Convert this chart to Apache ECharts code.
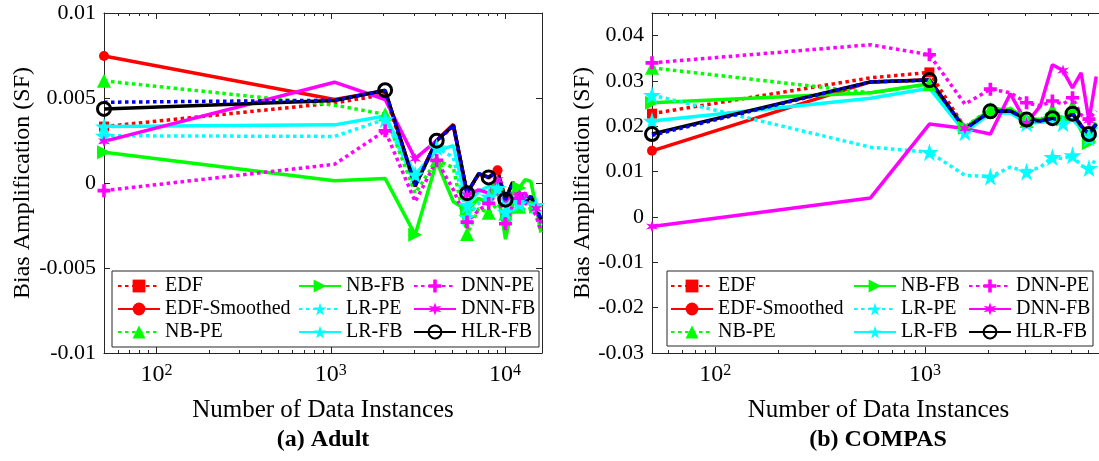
<!DOCTYPE html>
<html>
<head>
<meta charset="utf-8">
<title>Bias Amplification</title>
<script src="https://cdn.jsdelivr.net/npm/echarts@6.0.0/dist/echarts.min.js"></script>
<style>body{margin:0;background:#fff} #chart{width:1099px;height:461px}</style>
</head>
<body>
<div id="chart"></div>
<script>
// legend names, in plotting order
const names = ['EDF', 'EDF-Smoothed', 'NB-PE', 'NB-FB', 'LR-PE', 'LR-FB', 'DNN-PE', 'DNN-FB', 'HLR-FB']

// (a) Adult
const adultN = [50, 1050, 2050, 3050, 4050, 5050, 6050, 7050, 8050, 9050, 10050, 11050, 12050, 13050, 14050, 15050, 16050]
const adultEDF    = [0.00332, 0.00471, 0.0052, -0.0002, 0.00245, 0.00335, -0.00062, 0.0005, 0.0003, 0.0007, -0.001, 0, -0.0006, -0.0011, -0.00082, -0.0014, -0.0022]
const adultEDFS   = [0.00747, 0.00491, 0.00543, -0.0001, 0.00252, 0.00345, -0.00058, 0.00052, 0.00035, 0.00075, -0.00095, 0.00005, -0.00058, -0.00105, -0.0008, -0.00138, -0.0021]
const adultNBPE   = [0.00601, 0.00458, 0.00404, -0.0006, 0.00135, 0.0009, -0.003, -0.0015, -0.00175, -0.0012, -0.0018, -0.0012, -0.0014, -0.0016, -0.0015, -0.0019, -0.0029]
const adultNBFB   = [0.00181, 0.00013, 0.00027, -0.00305, 0.00125, -0.0011, -0.0016, -0.0009, -0.0012, -0.0004, -0.0033, -0.0013, -0.0003, 0.0002, 0.0001, -0.0014, -0.0029]
const adultLRPE   = [0.00278, 0.00274, 0.00375, 0.0001, 0.0021, 0.0015, -0.002, -0.0012, -0.0008, -0.0005, -0.0017, -0.0009, -0.0012, -0.0011, -0.0013, -0.0016, -0.0025]
const adultLRFB   = [0.00332, 0.00342, 0.00394, 0.0005, 0.0019, 0.0022, -0.0013, -0.0005, -0.0002, -0.0003, -0.0013, -0.0005, -0.001, -0.0007, -0.001, -0.0013, -0.0022]
const adultDNNPE  = [-0.00045, 0.0011, 0.00307, -0.0011, 0.00133, -0.0004, -0.0023, -0.0016, -0.0012, -0.0006, -0.0024, -0.0013, -0.0009, -0.0012, -0.0014, -0.0019, -0.0028]
const adultDNNFB  = [0.00245, 0.00593, 0.00491, 0.00143, 0.0025, 0.0034, -0.0007, -0.0004, -0.0006, 0.00017, -0.0011, -0.0006, -0.0007, -0.0006, -0.0012, -0.0015, -0.0024]
const adultHLRFB  = [0.00436, 0.00485, 0.00546, -0.00017, 0.00249, 0.0034, -0.0006, 0.00055, 0.00033, 0.00068, -0.00098, 0.00003, -0.0006, -0.0011, -0.0008, -0.0014, -0.00215]
const adultBlue   = [0.00475, 0.00487, 0.00543, -0.00015, 0.0025, 0.0034, -0.0006, 0.00055, 0.00033, 0.00068, -0.00098, 0.00003, -0.0006, -0.0011, -0.0008, -0.0014, -0.00215]

// (b) COMPAS
const compasN = [50, 550, 1050, 1550, 2050, 2550, 3050, 3550, 4050, 4550, 5050, 5550, 6050, 6550]
const compasEDF   = [0.0228, 0.0307, 0.0319, 0.0197, 0.0235, 0.0236, 0.0217, 0.0214, 0.022, 0.0214, 0.023, 0.0203, 0.0186, 0.0207]
const compasEDFS  = [0.0146, 0.0298, 0.0303, 0.0194, 0.0233, 0.0234, 0.0215, 0.0212, 0.0218, 0.0212, 0.0228, 0.0201, 0.0183, 0.0205]
const compasNBPE  = [0.0329, 0.0274, 0.0293, 0.0199, 0.0238, 0.024, 0.0212, 0.0214, 0.0237, 0.0218, 0.0245, 0.0195, 0.018, 0.021]
const compasNBFB  = [0.0252, 0.0274, 0.0294, 0.0197, 0.0236, 0.0238, 0.0218, 0.0215, 0.0225, 0.0215, 0.0235, 0.019, 0.0163, 0.0205]
const compasLRPE  = [0.0269, 0.0154, 0.0143, 0.0092, 0.0089, 0.011, 0.01, 0.011, 0.0132, 0.0129, 0.0136, 0.0113, 0.0108, 0.0128]
const compasLRFB  = [0.0212, 0.0262, 0.0284, 0.0187, 0.0229, 0.023, 0.0207, 0.0209, 0.0212, 0.0207, 0.0215, 0.0195, 0.0175, 0.02]
const compasDNNPE = [0.034, 0.038, 0.0358, 0.0249, 0.0282, 0.0274, 0.0252, 0.0245, 0.0256, 0.0249, 0.0263, 0.0225, 0.0216, 0.0234]
const compasDNNFB = [-0.0021, 0.0042, 0.0205, 0.0195, 0.0183, 0.0272, 0.0207, 0.0245, 0.0336, 0.0323, 0.0285, 0.0318, 0.0213, 0.031]
const compasHLRFB = [0.0183, 0.0298, 0.0302, 0.0194, 0.0233, 0.0234, 0.0215, 0.0212, 0.0218, 0.0212, 0.0228, 0.0201, 0.0183, 0.0205]
const compasBlue  = [0.018, 0.0298, 0.0302, 0.0194, 0.0233, 0.0234, 0.0215, 0.0212, 0.0218, 0.0212, 0.0228, 0.0201, 0.0183, 0.0205]

// ticks
const adultMajor = [100, 1000, 10000]
const adultMinor = [60, 70, 80, 90, 200, 300, 400, 500, 600, 700, 800, 900, 2000, 3000, 4000, 5000, 6000, 7000, 8000, 9000]
const compasMajor = [100, 1000]
const compasMinor = [60, 70, 80, 90, 200, 300, 400, 500, 600, 700, 800, 900, 2000, 3000, 4000, 5000, 6000, 7000]

const FONT = 'Liberation Serif'
const INK = '#262626'
const star = 'path://M50,0 L61,35 L98,35 L68,57 L79,91 L50,70 L21,91 L32,57 L2,35 L39,35 Z'
const plus = 'path://M36,0 H64 V36 H100 V64 H64 V100 H36 V64 H0 V36 H36 Z'
const aster = 'path://M50,0 L60,33 L93,25 L70,50 L93,75 L60,67 L50,100 L40,67 L7,75 L30,50 L7,25 L40,33 Z'

const even = k => k % 2 === 0 && k <= 12
const third = k => k % 3 === 0
// marker placement per series: [adult, compas]
const look = {
  'EDF':          { color: '#ff0000', dot: true,  symbol: 'rect', size: 10, marks: [k => k === 0, k => k === 0 || k === 2] },
  'EDF-Smoothed': { color: '#ff0000', dot: false, symbol: 'circle', size: 10, marks: [k => k === 0 || k === 9, k => k === 0] },
  'NB-PE':        { color: '#00ff00', dot: true,  symbol: 'triangle', size: 14, marks: [even, even] },
  'NB-FB':        { color: '#00ff00', dot: false, symbol: 'triangle', size: 14, rotate: -90, marks: [third, third] },
  'LR-PE':        { color: '#00ffff', dot: true,  symbol: star, size: 18, marks: [even, even] },
  'LR-FB':        { color: '#00ffff', dot: false, symbol: star, size: 18, marks: [third, third] },
  'DNN-PE':       { color: '#ff00ff', dot: true,  symbol: plus, size: 13, marks: [even, even] },
  'DNN-FB':       { color: '#ff00ff', dot: false, symbol: aster, size: 12, marks: [third, third] },
  'HLR-FB':       { color: '#000000', dot: false, symbol: 'circle', size: 13, ring: true, marks: [k => k % 2 === 0 && k <= 10, even] },
  'HLR':          { color: '#0000ff', dot: true,  symbol: 'none', size: 0, marks: [k => false, k => false] }
}

function makeSeries(name, xs, ys, g) {
  const s = look[name]
  return {
    name: name,
    type: 'line',
    xAxisIndex: g * 4,
    yAxisIndex: g * 2,
    symbol: s.symbol,
    symbolSize: s.size,
    symbolRotate: s.rotate || 0,
    showSymbol: s.symbol !== 'none',
    showAllSymbol: true,
    animation: false,
    color: s.color,
    lineStyle: { color: s.color, width: 3.5, type: s.dot ? [3.5, 3.5] : 'solid', cap: 'butt' },
    itemStyle: s.ring
      ? { color: 'rgba(0,0,0,0)', borderColor: s.color, borderWidth: 3 }
      : { color: s.color, borderWidth: 0 },
    data: xs.map((x, k) => {
      const item = { value: [x, ys[k]] }
      if (!s.marks[g](k)) item.symbol = 'none'
      return item
    })
  }
}

const adultSets = [adultEDF, adultEDFS, adultNBPE, adultNBFB, adultLRPE, adultLRFB, adultDNNPE, adultDNNFB, adultHLRFB, adultBlue]
const compasSets = [compasEDF, compasEDFS, compasNBPE, compasNBFB, compasLRPE, compasLRFB, compasDNNPE, compasDNNFB, compasHLRFB, compasBlue]
const allNames = names.concat(['HLR'])

const series = []
allNames.forEach((n, i) => series.push(makeSeries(n, adultN, adultSets[i], 0)))
allNames.forEach((n, i) => series.push(makeSeries(n, compasN, compasSets[i], 1)))

const tickLine = { color: INK, width: 1 }
const labelText = { fontFamily: FONT, fontSize: 22, color: '#000' }

function xAxes(g, min, max, major, minor) {
  const base = { type: 'log', logBase: 10, gridIndex: g, min: min, max: max, splitLine: { show: false } }
  return [
    Object.assign({}, base, {
      position: 'bottom',
      axisLine: { show: true, onZero: false, lineStyle: tickLine },
      axisTick: { inside: true, length: 6, customValues: major, lineStyle: tickLine },
      axisLabel: {
        customValues: major, margin: 10, fontFamily: FONT, fontSize: 24, color: '#000',
        formatter: v => '{b|10}{sup|' + Math.round(Math.log10(v)) + '}',
        rich: {
          b: { fontFamily: FONT, fontSize: 24, color: '#000', verticalAlign: 'bottom', lineHeight: 24 },
          sup: { fontFamily: FONT, fontSize: 16, color: '#000', verticalAlign: 'top', lineHeight: 16, padding: [0, 0, 14, 0] }
        }
      },
      name: 'Number of Data Instances', nameLocation: 'middle', nameGap: 45,
      nameTextStyle: { fontFamily: FONT, fontSize: 25, color: '#000' }
    }),
    Object.assign({}, base, {
      position: 'bottom',
      axisLine: { show: false, onZero: false },
      axisTick: { inside: true, length: 3, customValues: minor, lineStyle: tickLine },
      axisLabel: { show: false }
    }),
    Object.assign({}, base, {
      position: 'top',
      axisLine: { show: true, onZero: false, lineStyle: tickLine },
      axisTick: { inside: true, length: 6, customValues: major, lineStyle: tickLine },
      axisLabel: { show: false }
    }),
    Object.assign({}, base, {
      position: 'top',
      axisLine: { show: false, onZero: false },
      axisTick: { inside: true, length: 3, customValues: minor, lineStyle: tickLine },
      axisLabel: { show: false }
    })
  ]
}

function yAxes(g, min, max, step, gap) {
  const base = { type: 'value', gridIndex: g, min: min, max: max, interval: step, splitLine: { show: false } }
  return [
    Object.assign({}, base, {
      position: 'left',
      axisLine: { show: true, onZero: false, lineStyle: tickLine },
      axisTick: { inside: true, length: 6, lineStyle: tickLine },
      axisLabel: Object.assign({ margin: 8, formatter: v => (Math.abs(v - max) < 1e-9 && max === 0.045) ? '' : String(+v.toFixed(4)) }, labelText),
      name: 'Bias Amplification (SF)', nameLocation: 'middle', nameRotate: 90, nameGap: gap,
      nameTextStyle: { fontFamily: FONT, fontSize: 24, color: '#000' }
    }),
    Object.assign({}, base, {
      position: 'right',
      axisLine: { show: true, onZero: false, lineStyle: tickLine },
      axisTick: { inside: true, length: 6, lineStyle: tickLine },
      axisLabel: { show: false }
    })
  ]
}

function legendCols(lefts) {
  return lefts.map((left, c) => ({
    orient: 'vertical', left: left, top: 276, padding: 0,
    data: names.slice(c * 3, c * 3 + 3),
    itemWidth: 42, itemHeight: 16, itemGap: 3, selectedMode: false, z: 5,
    textStyle: { fontFamily: FONT, fontSize: 20, color: '#000', lineHeight: 20 }
  }))
}

const chart = echarts.init(document.getElementById('chart'))
chart.setOption({
  animation: false,
  backgroundColor: '#fff',
  grid: [
    { left: 104, top: 13, width: 438, height: 340, containLabel: false, outerBoundsMode: 'none' },
    { left: 652, top: 13, width: 453, height: 340, containLabel: false, outerBoundsMode: 'none' }
  ],
  xAxis: xAxes(0, 50, 16281, adultMajor, adultMinor).concat(xAxes(1, 50, 7214, compasMajor, compasMinor)),
  yAxis: yAxes(0, -0.01, 0.01, 0.005, 69).concat(yAxes(1, -0.03, 0.045, 0.01, 57)),
  legend: legendCols([117, 298, 413]).concat(legendCols([670, 853, 968])),
  graphic: [
    { type: 'rect', z: 4, shape: { x: 112, y: 271, width: 427, height: 76 }, style: { fill: '#fff', stroke: INK, lineWidth: 1 } },
    { type: 'rect', z: 4, shape: { x: 667, y: 271, width: 426, height: 75 }, style: { fill: '#fff', stroke: INK, lineWidth: 1 } },
    { type: 'text', z: 5, x: 323, y: 440, style: { text: '(a) Adult', font: 'bold 24px "Liberation Serif"', fill: '#000', align: 'center', verticalAlign: 'middle', textAlign: 'center', textVerticalAlign: 'middle' } },
    { type: 'text', z: 5, x: 878, y: 440, style: { text: '(b) COMPAS', font: 'bold 24px "Liberation Serif"', fill: '#000', align: 'center', verticalAlign: 'middle', textAlign: 'center', textVerticalAlign: 'middle' } }
  ],
  series: series
})
</script>
</body>
</html>
